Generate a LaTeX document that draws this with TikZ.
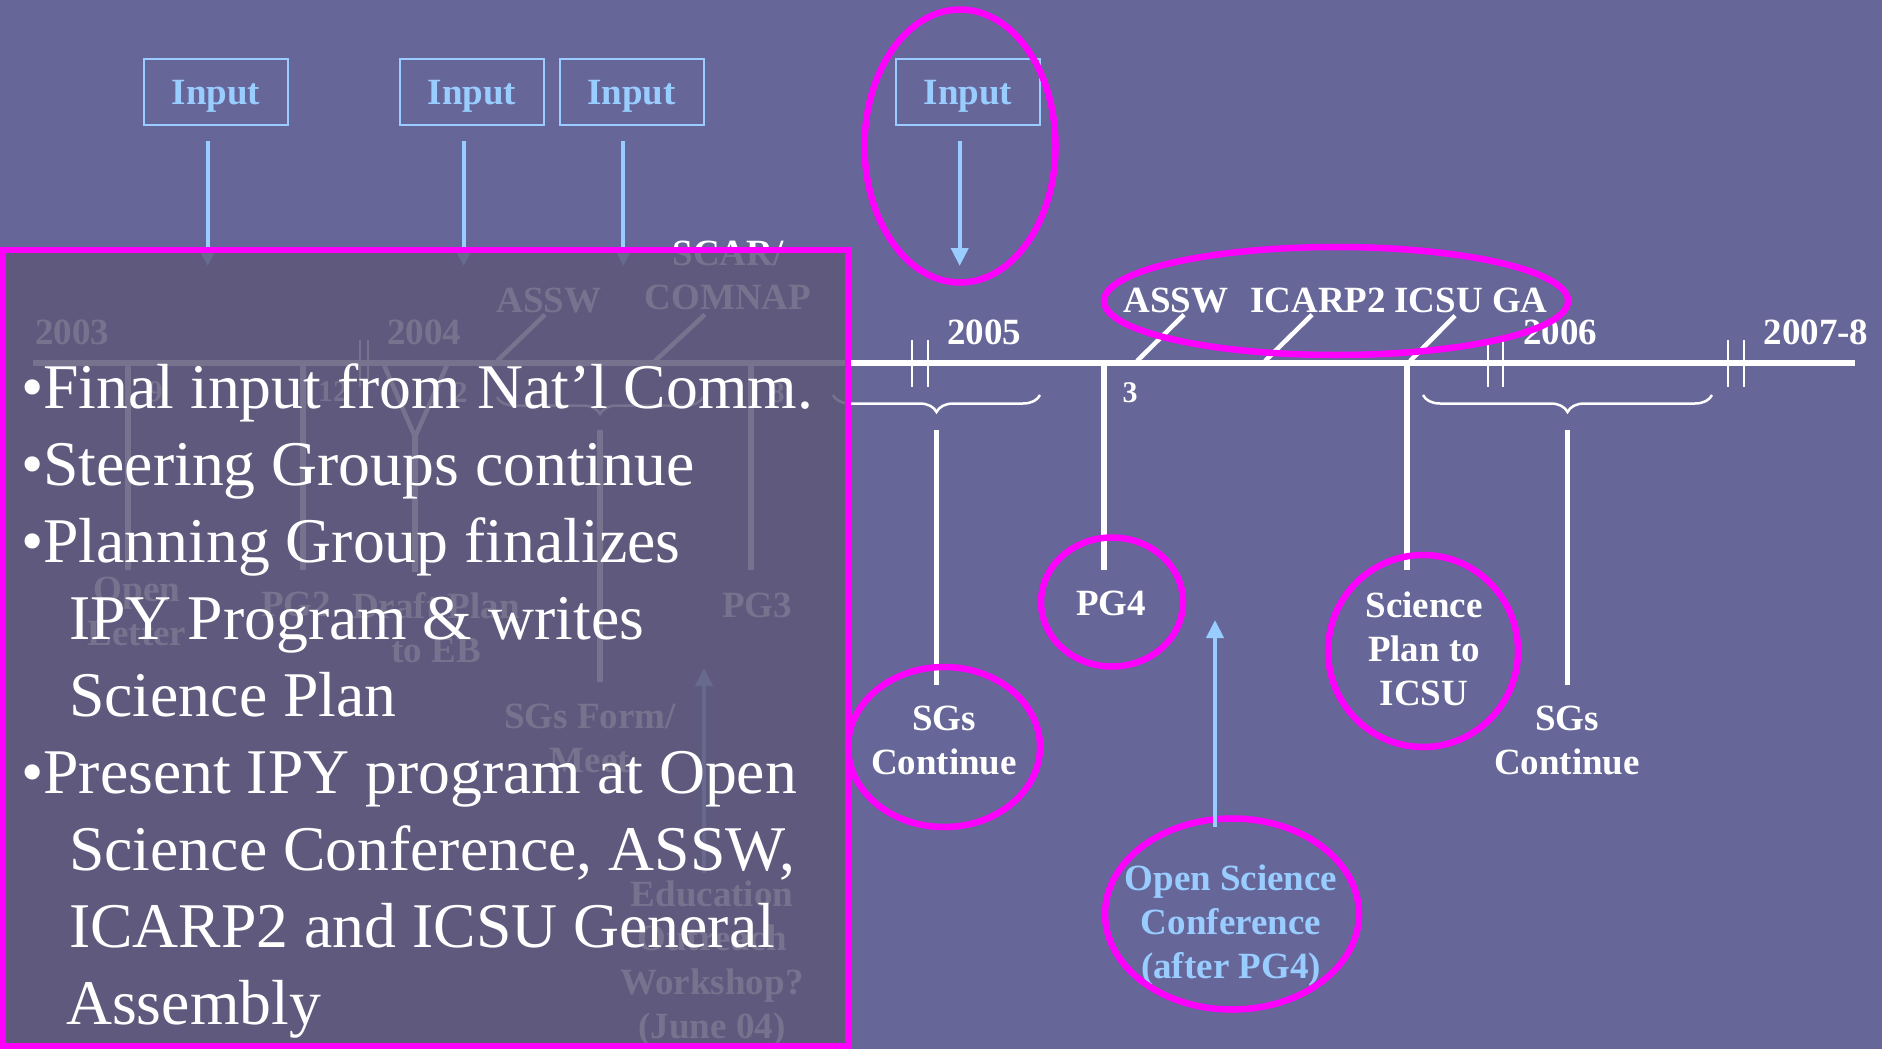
\documentclass[tikz,border=0pt]{standalone}
\usepackage{fontspec}
\setmainfont{Liberation Serif}
\usetikzlibrary{shapes.geometric,arrows.meta,decorations.pathreplacing}
\definecolor{bgc}{RGB}{102,102,153}
\definecolor{ovc}{RGB}{94,88,120}
\definecolor{lblue}{RGB}{153,204,255}
\definecolor{mag}{RGB}{255,0,255}
\begin{document}
\begin{tikzpicture}[x=1pt,y=-1pt,
  lbl/.style={font=\fontsize{37}{44}\selectfont\bfseries, text=white, inner sep=0pt, align=center},
  one/.style={text height=25pt, text depth=0pt},
  multi/.style={text depth=0pt},
  small/.style={font=\fontsize{30}{36}\selectfont\bfseries, text=white, inner sep=0pt, text height=20pt, text depth=0pt},
  inbox/.style={draw=lblue, line width=2pt, minimum width=144pt, minimum height=66pt, inner sep=0pt, text=lblue, font=\fontsize{37}{44}\selectfont\bfseries, text height=25pt, text depth=0pt},
  inarrow/.style={draw=lblue, line width=4pt, -{Triangle[width=17pt,length=18pt]}},
  tl/.style={draw=white, line width=6pt},
  tickmark/.style={draw=white, line width=2pt},
  vl/.style={draw=white, line width=5.5pt},
  slant/.style={draw=white, line width=4.5pt},
  brc/.style={draw=white, line width=2.5pt, decorate, decoration={brace, mirror, amplitude=17pt}},
  hl/.style={draw=mag, line width=6.5pt, ellipse, inner sep=0pt, outer sep=0pt},
]
\useasboundingbox (0,0) rectangle (1882,1049);
\fill[bgc] (0,0) rectangle (1882,1049);

% ---------- Input boxes and arrows
\node[inbox] (in1) at (216,92) {Input};
\node[inbox] (in2) at (472,92) {Input};
\node[inbox] (in3) at (631.5,92) {Input};
\node[inbox] (in4) at (968,92) {Input};
\coordinate (a1) at (207.7,266);
\coordinate (a2) at (463.7,266);
\coordinate (a3) at (623.4,266);
\coordinate (a4) at (959.7,266);
\foreach \i in {1,2,3,4}
  \draw[inarrow, shorten <=15pt] (in\i.south -| a\i) -- (a\i);

% ---------- timeline
\coordinate (tl0) at (33,363);
\coordinate (tl1) at (1855,363);
\draw[tl] (tl0) -- (tl1);
\foreach \x in {360,368,912,928,1488,1503,1728,1744}
  \draw[tickmark] (\x,340) -- (\x,387);

% year labels
\node[lbl,one] (y03) at (72,332) {2003};
\node[lbl,one] (y04) at (424,332) {2004};
\node[lbl,one] (y05) at (984,332) {2005};
\node[lbl,one] (y06) at (1560,332) {2006};
\node[lbl,one] (y07) at (1816,332) {2007-8};

% meetings above the line
\node[lbl,one] (asswA) at (549,300) {ASSW};
\node[lbl,multi] (scar) at (728,275) {SCAR/\\COMNAP};
\node[lbl,one] (assw) at (1176,300) {ASSW};
\node[lbl,one] (icarp) at (1318,300) {ICARP2};
\node[lbl,one] (icsu) at (1471,300) {ICSU GA};
\coordinate (sa0) at (497,361);
\coordinate (sa1) at (655,361);
\coordinate (sa2) at (1137,361);
\coordinate (sa3) at (1265,361);
\coordinate (sa4) at (1410,361);
\draw[slant] ([xshift=-4pt,yshift=-2pt]asswA.south) -- (sa0);
\draw[slant] ([xshift=-23pt,yshift=-5pt]scar.south) -- (sa1);
\draw[slant] ([xshift=8pt,yshift=-2pt]assw.south) -- (sa2);
\draw[slant] ([xshift=-6pt,yshift=-2pt]icarp.south) -- (sa3);
\draw[slant] ([xshift=-16pt,yshift=-3pt]icsu.south) -- (sa4);

% month numbers
\node[small] (m9) at (155,391) {9};
\node[small] (m12) at (333,391) {12};
\node[small] (m2) at (460,392) {2};
\node[small] (m8) at (777,392) {8};
\node[small] (m3) at (1130,392) {3};

% labels under the line
\node[lbl,multi] (openl) at (137,611) {Open\\Letter};
\node[lbl,one] (pg2) at (296,604) {PG2};
\node[lbl,multi] (draft) at (436,627) {Draft Plan\\to EB};
\node[lbl,multi] (sgf) at (590,738) {SGs Form/\\Meet};
\node[lbl,one] (pg3) at (757,605) {PG3};
\node[lbl,multi] (edu) at (712,960) {Education\\Outreach\\Workshop?\\(June 04)};
\node[lbl,one] (pg4) at (1111,603) {PG4};
\node[lbl,multi] (sgc1) at (944,740) {SGs\\Continue};
\node[lbl,multi] (sci) at (1424,649) {Science\\Plan to\\ICSU};
\node[lbl,multi] (sgc2) at (1567,740) {SGs\\Continue};
\node[lbl,multi,text=lblue] (osc) at (1231,922) {Open Science\\Conference\\(after PG4)};

% verticals from the timeline
\coordinate (t1) at (128,363);
\coordinate (t2) at (303,363);
\coordinate (y1) at (384,365);
\coordinate (y2) at (447,365);
\coordinate (yj) at (415,437);
\coordinate (t5) at (751,363);
\coordinate (t6) at (1104,363);
\coordinate (t7) at (1407,363);
\draw[vl, shorten >=7pt] (t1) -- (t1 |- openl.north);
\draw[vl, shorten >=21pt] (t2) -- (t2 |- pg2.north);
\draw[slant] (y1) -- (yj) -- (y2);
\draw[vl, shorten >=20pt] (yj) -- (yj |- draft.north);
\draw[vl, shorten >=22pt] (t5) -- (t5 |- pg3.north);
\draw[vl, shorten >=20pt] (t6) -- (t6 |- pg4.north);
\draw[vl, shorten >=22pt] (t7) -- (t7 |- sci.north);

% braces
\draw[brc] (497,397) -- (703,397);
\draw[brc] (833,395) -- (1040,395);
\draw[brc] (1423,395) -- (1712,395);
\coordinate (bt0) at (600,412);
\coordinate (bt1) at (936.5,412);
\coordinate (bt2) at (1567.5,412);
\draw[vl, shorten <=18pt, shorten >=22pt] (bt0) -- (bt0 |- sgf.north);
\draw[vl, shorten <=18pt, shorten >=21pt] (bt1) -- (bt1 |- sgc1.north);
\draw[vl, shorten <=18pt, shorten >=21pt] (bt2) -- (bt2 |- sgc2.north);

% up arrows
\coordinate (eduA) at (704,668);
\draw[inarrow] ([xshift=-8pt,yshift=8pt]edu.north) -- (eduA);

% ---------- overlay panel
\node[draw=mag, line width=6pt, fill=ovc, fill opacity=0.84, minimum width=845pt, minimum height=796pt, inner sep=0pt, outer sep=0pt] (panel) at (425.5,648) {};
\node[anchor=north west, inner sep=0pt, text=white, align=left, font=\fontsize{63.7}{77}\selectfont] (bul) at (21,363)
  {•Final input from Nat’l Comm.\\
   •Steering Groups continue\\
   •Planning Group finalizes\\
   \hspace*{48pt}IPY Program \& writes\\
   \hspace*{48pt}Science Plan\\
   •Present IPY program at Open\\
   \hspace*{48pt}Science Conference, ASSW,\\
   \hspace*{48pt}ICARP2 and ICSU General\\
   \hspace*{45pt}Assembly};

% ---------- highlight ellipses
\node[hl, minimum width=191pt, minimum height=273pt] (hlIn4) at (960,146) {};
\node[hl, minimum width=464pt, minimum height=108pt] (hlConf) at (1336,301) {};
\node[hl, minimum width=192pt, minimum height=160pt] (hlSG) at (944,747) {};
\node[hl, minimum width=142pt, minimum height=129pt] (hlPG4) at (1112,602) {};
\node[hl, minimum width=190pt, minimum height=192pt] (hlSci) at (1423,651) {};
\node[hl, minimum width=254pt, minimum height=191pt] (hlOSC) at (1232,914) {};

\coordinate (oscA) at (1215,620);
\draw[inarrow, shorten <=-8pt] (hlOSC.north -| oscA) -- (oscA);
\end{tikzpicture}
\end{document}
